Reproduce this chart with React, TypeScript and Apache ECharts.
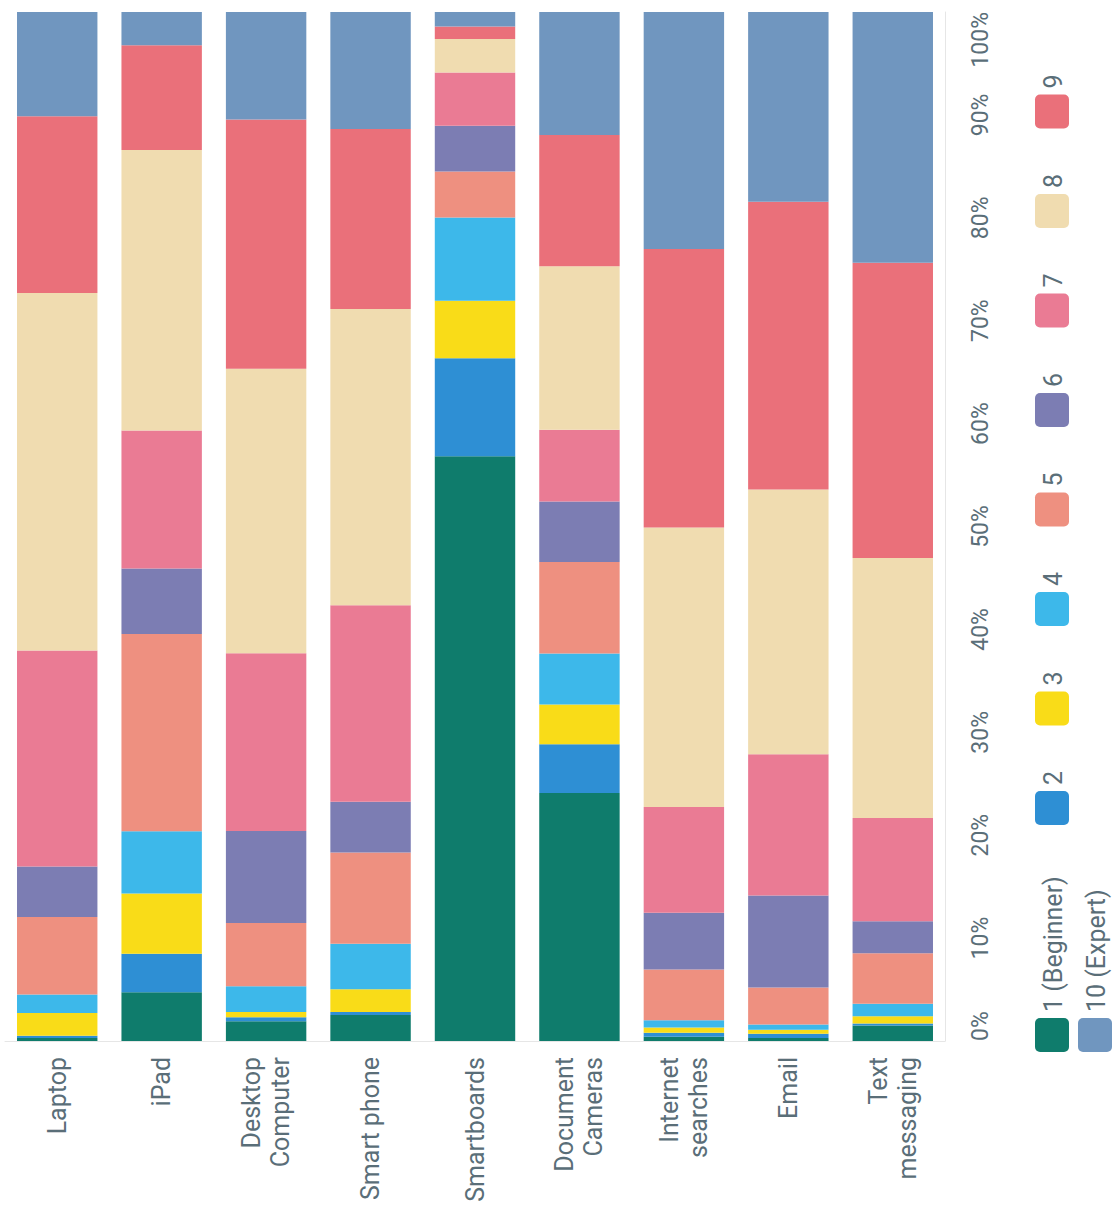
import React, { useEffect, useRef } from "react";
import * as echarts from "echarts";

const categories = [
  "Laptop",
  "iPad",
  "Desktop\nComputer",
  "Smart phone",
  "Smartboards",
  "Document\nCameras",
  "Internet\nsearches",
  "Email",
  "Text\nmessaging",
];

const levelNames = ["1 (Beginner)", "2", "3", "4", "5", "6", "7", "8", "9", "10 (Expert)"];

// percent of respondents per skill level, per category (order as categories)
const level1 = [0.3, 4.7, 1.9, 2.5, 56.1, 23.8, 0.4, 0.3, 1.5];
const level2 = [0.2, 3.7, 0.4, 0.3, 9.4, 4.7, 0.4, 0.4, 0.2];
const level3 = [2.2, 5.8, 0.5, 2.2, 5.5, 3.8, 0.5, 0.4, 0.7];
const level4 = [1.8, 6.0, 2.5, 4.4, 8.0, 4.9, 0.7, 0.5, 1.2];
const level5 = [7.5, 19.0, 6.1, 8.8, 4.4, 8.8, 4.9, 3.6, 4.9];
const level6 = [4.9, 6.3, 8.9, 4.9, 4.4, 5.8, 5.5, 8.9, 3.1];
const level7 = [20.9, 13.3, 17.2, 19.0, 5.1, 6.9, 10.2, 13.7, 10.0];
const level8 = [34.6, 27.0, 27.5, 28.6, 3.2, 15.7, 27.0, 25.7, 25.2];
const level9 = [17.1, 10.1, 24.1, 17.4, 1.2, 12.6, 26.9, 27.9, 28.6];
const level10 = [10.1, 3.2, 10.4, 11.3, 1.4, 11.8, 22.9, 18.4, 24.3];

const levels = [level1, level2, level3, level4, level5, level6, level7, level8, level9, level10];

const valueTicks = [0, 10, 20, 30, 40, 50, 60, 70, 80, 90, 100];

const colors = [
  "#0f7c6c",
  "#2e8fd4",
  "#f9dc18",
  "#3db8ea",
  "#ee9080",
  "#7c7db3",
  "#ea7b94",
  "#f0dcb0",
  "#ea707a",
  "#7096bf",
];

const textColor = "#5a6e78";
const fontFamily = "Roboto, 'Noto Sans', sans-serif";

export default function App() {
  const ref = useRef<HTMLDivElement>(null);

  useEffect(() => {
    if (!ref.current) return;
    const chart = echarts.init(ref.current, null, { renderer: "svg" });

    const totals = categories.map((_, i) => levels.reduce((s, arr) => s + arr[i], 0));

    const series = levels.map((arr, k) => ({
      name: levelNames[k],
      type: "bar",
      stack: "total",
      barCategoryGap: "23%",
      itemStyle: { color: colors[k] },
      data: arr.map((v, i) => (v / totals[i]) * 100),
    }));

    // rotated legend drawn with graphic elements
    const legendChildren: any[] = [];
    const swW = 34;
    const swH = 34;
    levelNames.forEach((name, k) => {
      let lx: number;
      let ly: number;
      if (k === 9) {
        lx = 0;
        ly = 43;
      } else if (k === 0) {
        lx = 0;
        ly = 0;
      } else {
        lx = 227 + (k - 1) * 99.5;
        ly = 0;
      }
      legendChildren.push({
        type: "rect",
        x: lx,
        y: ly - swH / 2,
        shape: { x: 0, y: 0, width: swW, height: swH, r: 5 },
        style: { fill: colors[k] },
      });
      legendChildren.push({
        type: "text",
        x: lx + swW + 6,
        y: ly + 1,
        style: {
          text: name,
          fill: textColor,
          fontSize: 25,
          fontFamily,
          align: "left",
          verticalAlign: "middle",
        },
      });
    });

    chart.setOption({
      animation: false,
      backgroundColor: "#ffffff",
      grid: {
        left: 5,
        right: 173,
        top: 12,
        bottom: 175,
        containLabel: false,
        outerBoundsMode: "none",
      },
      xAxis: {
        type: "category",
        data: categories,
        axisTick: { show: false },
        axisLine: { show: true, lineStyle: { color: "#e6e6e6", width: 1 } },
        axisLabel: {
          rotate: 90,
          interval: 0,
          margin: 16,
          fontSize: 25,
          lineHeight: 29,
          color: textColor,
          fontFamily,
          padding: [0, 0, 12, 0],
        },
      },
      yAxis: {
        type: "value",
        position: "right",
        min: 0,
        max: 100,
        interval: 10,
        axisLine: { show: true, lineStyle: { color: "#e6e6e6", width: 1 } },
        axisTick: { show: false },
        splitLine: { show: false },
        axisLabel: {
          rotate: 90,
          margin: 24,
          fontSize: 23,
          color: textColor,
          fontFamily,
          customValues: valueTicks,
          alignMinLabel: "left",
          alignMaxLabel: "right",
          formatter: (v: number) => `${v}%`,
        },
      },
      graphic: {
        elements: [
          {
            type: "group",
            x: 1052,
            y: 1052,
            rotation: Math.PI / 2,
            children: legendChildren,
          },
        ],
      },
      series,
    });

    return () => {
      chart.dispose();
    };
  }, []);

  return (
    <div
      ref={ref}
      style={{ position: "absolute", left: 0, top: 0, width: 1118, height: 1216 }}
    />
  );
}
